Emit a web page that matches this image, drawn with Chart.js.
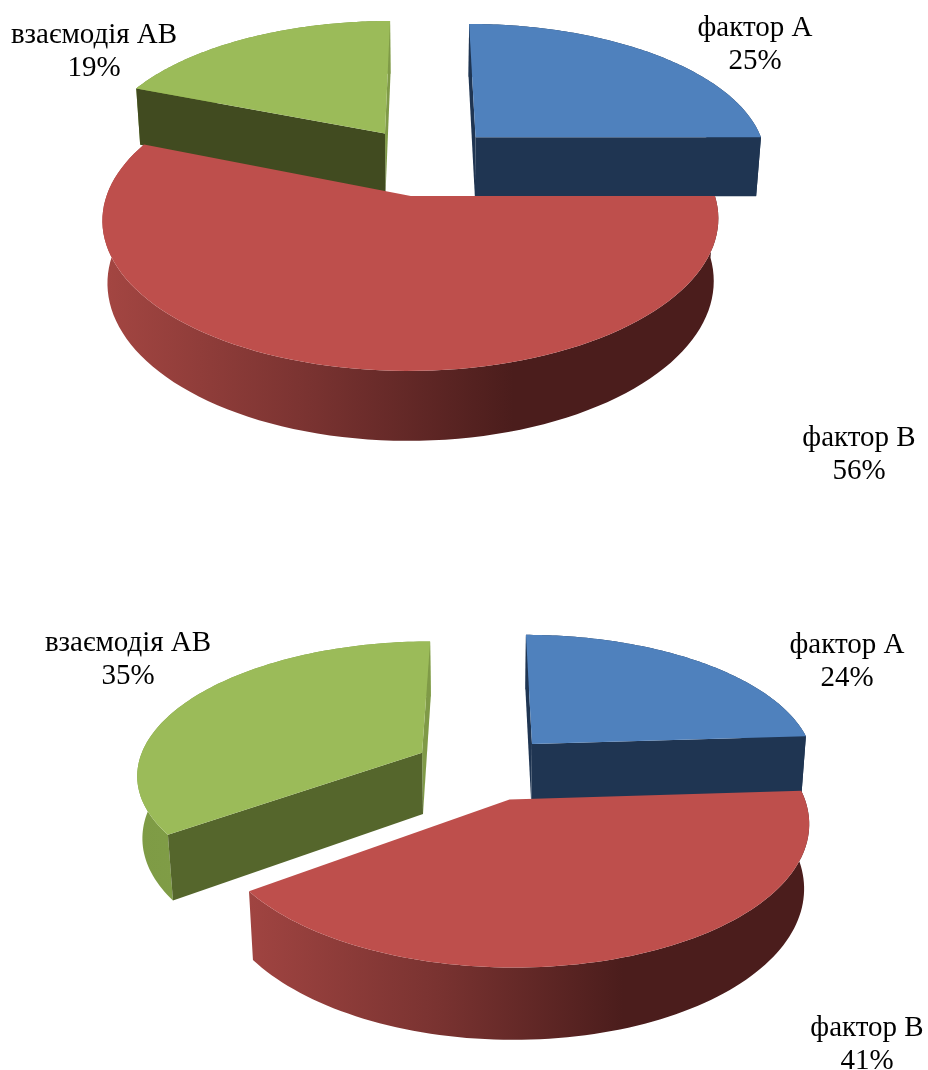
<!DOCTYPE html>
<html>
<head>
<meta charset="utf-8">
<title>pie</title>
<script src="https://cdn.jsdelivr.net/npm/chart.js@4"></script>
<style>
  html, body { margin: 0; padding: 0; background: #fff; }
  body { position: relative; width: 928px; height: 1070px; overflow: hidden; }
  canvas { position: absolute; left: 0; }
</style>
</head>
<body>
<canvas id="chart1" style="top:0"></canvas>
<canvas id="chart2" style="top:530px"></canvas>
<script>
var categories = ['фактор А', 'фактор В', 'взаємодія АВ'];
var valuesTop = [25, 56, 19];
var valuesBottom = [24, 41, 35];
var topColors = ['#4F81BD', '#BE4F4C', '#9BBB59'];

// colours of the side walls: [arc wall gradient], start wall, end wall
var wallsTop = [
    { arc: ['#1F3552', '#1F3552'], start: '#1F3552', end: '#1F3552' },
    { arc: ['#A44642', '#7A3331', '#4B1D1C', '#4B1D1C'], start: '#4B1D1C', end: '#A44642' },
    { arc: ['#7E9B45', '#7E9B45'], start: '#414B20', end: '#7F9A47' }
];
var wallsBottom = [
    { arc: ['#1F3552', '#1F3552'], start: '#1F3552', end: '#1F3552' },
    { arc: ['#A04441', '#7A3331', '#4B1D1C', '#4B1D1C'], start: '#4B1D1C', end: '#A04441' },
    { arc: ['#7E9B45', '#8AA74F'], start: '#55662C', end: '#7F9A47' }
];

// the library lays the arcs out flat, this tilts them like the Excel 3D pie
var pie3d = {
    id: 'pie3d',
    beforeDatasetsDraw: function (chart, args, opts) {
        var ctx = chart.ctx;
        var arcs = chart.getDatasetMeta(0).data;

        function project(X, Y, z) {
            var w = 1 - opts.p * Y + opts.q * z;
            return { x: opts.cx + opts.a * X / w, y: opts.cy + (opts.b * Y + opts.c * z) / w };
        }

        var slices = arcs.map(function (arc, i) {
            var mid = (arc.startAngle + arc.endAngle) / 2;
            var off = arc.options.offset / arc.outerRadius;
            return {
                arc: arc,
                walls: opts.walls[i],
                ox: off * Math.cos(mid),
                oy: off * Math.sin(mid),
                depth: Math.sin(mid)
            };
        });
        slices.sort(function (s, t) { return s.depth - t.depth; });

        function poly(points, fill) {
            ctx.beginPath();
            points.forEach(function (pt, i) {
                if (i === 0) ctx.moveTo(pt.x, pt.y); else ctx.lineTo(pt.x, pt.y);
            });
            ctx.closePath();
            ctx.fillStyle = fill;
            ctx.fill();
        }

        slices.forEach(function (s) {
            var arc = s.arc, topEdge = [], bottomEdge = [];
            for (var n = 0; n <= 96; n++) {
                var t = arc.startAngle + (arc.endAngle - arc.startAngle) * n / 96;
                var X = s.ox + Math.cos(t), Y = s.oy + Math.sin(t);
                topEdge.push(project(X, Y, 0));
                bottomEdge.push(project(X, Y, 1));
            }
            var apexTop = project(s.ox, s.oy, 0), apexBottom = project(s.ox, s.oy, 1);
            var last = topEdge.length - 1;

            // outer wall with a left to right shading
            var outline = topEdge.concat(bottomEdge.slice().reverse());
            var xs = outline.map(function (pt) { return pt.x; });
            var grad = ctx.createLinearGradient(Math.min.apply(null, xs), 0, Math.max.apply(null, xs), 0);
            s.walls.arc.forEach(function (col, i, all) { grad.addColorStop(i / (all.length - 1), col); });
            poly(outline, grad);

            // cut walls, only the ones turned to the viewer
            if (Math.cos(arc.endAngle) > -0.01) {
                poly([apexTop, topEdge[last], bottomEdge[last], apexBottom], s.walls.end);
            }
            if (-Math.cos(arc.startAngle) > -0.01) {
                poly([apexTop, topEdge[0], bottomEdge[0], apexBottom], s.walls.start);
            }

            // top face
            poly([apexTop].concat(topEdge), arc.options.backgroundColor);
        });

        // labels
        ctx.save();
        ctx.font = '29px "Liberation Serif"';
        ctx.fillStyle = '#000';
        ctx.textAlign = 'center';
        ctx.textBaseline = 'middle';
        opts.labels.forEach(function (pos, i) {
            ctx.fillText(chart.data.labels[i], pos.x, pos.y);
            ctx.fillText(chart.data.datasets[0].data[i] + '%', pos.x, pos.y + 33);
        });
        ctx.restore();
        return false;
    }
};

function makeChart(id, height, values, offset, opts) {
    var canvas = document.getElementById(id);
    canvas.width = 928;
    canvas.height = height;
    return new Chart(canvas, {
        type: 'pie',
        plugins: [pie3d],
        data: {
            labels: categories,
            datasets: [{ data: values, backgroundColor: topColors, borderWidth: 0, offset: offset }]
        },
        options: {
            responsive: false,
            animation: false,
            plugins: { legend: { display: false }, tooltip: { enabled: false }, pie3d: opts }
        }
    });
}

makeChart('chart1', 530, valuesTop, 59, {
    cx: 425, cy: 161, a: 293, b: 137, p: 0.15, q: 0.015, c: 61,
    walls: wallsTop,
    labels: [{ x: 755, y: 28 }, { x: 859, y: 438 }, { x: 94, y: 35 }]
});
makeChart('chart2', 540, valuesBottom, 60, {
    cx: 484.5, cy: 237.4, a: 285, b: 132, p: 0.15, q: 0.015, c: 63,
    walls: wallsBottom,
    labels: [{ x: 847, y: 115 }, { x: 867, y: 498 }, { x: 128, y: 113 }]
});
</script>
</body>
</html>
